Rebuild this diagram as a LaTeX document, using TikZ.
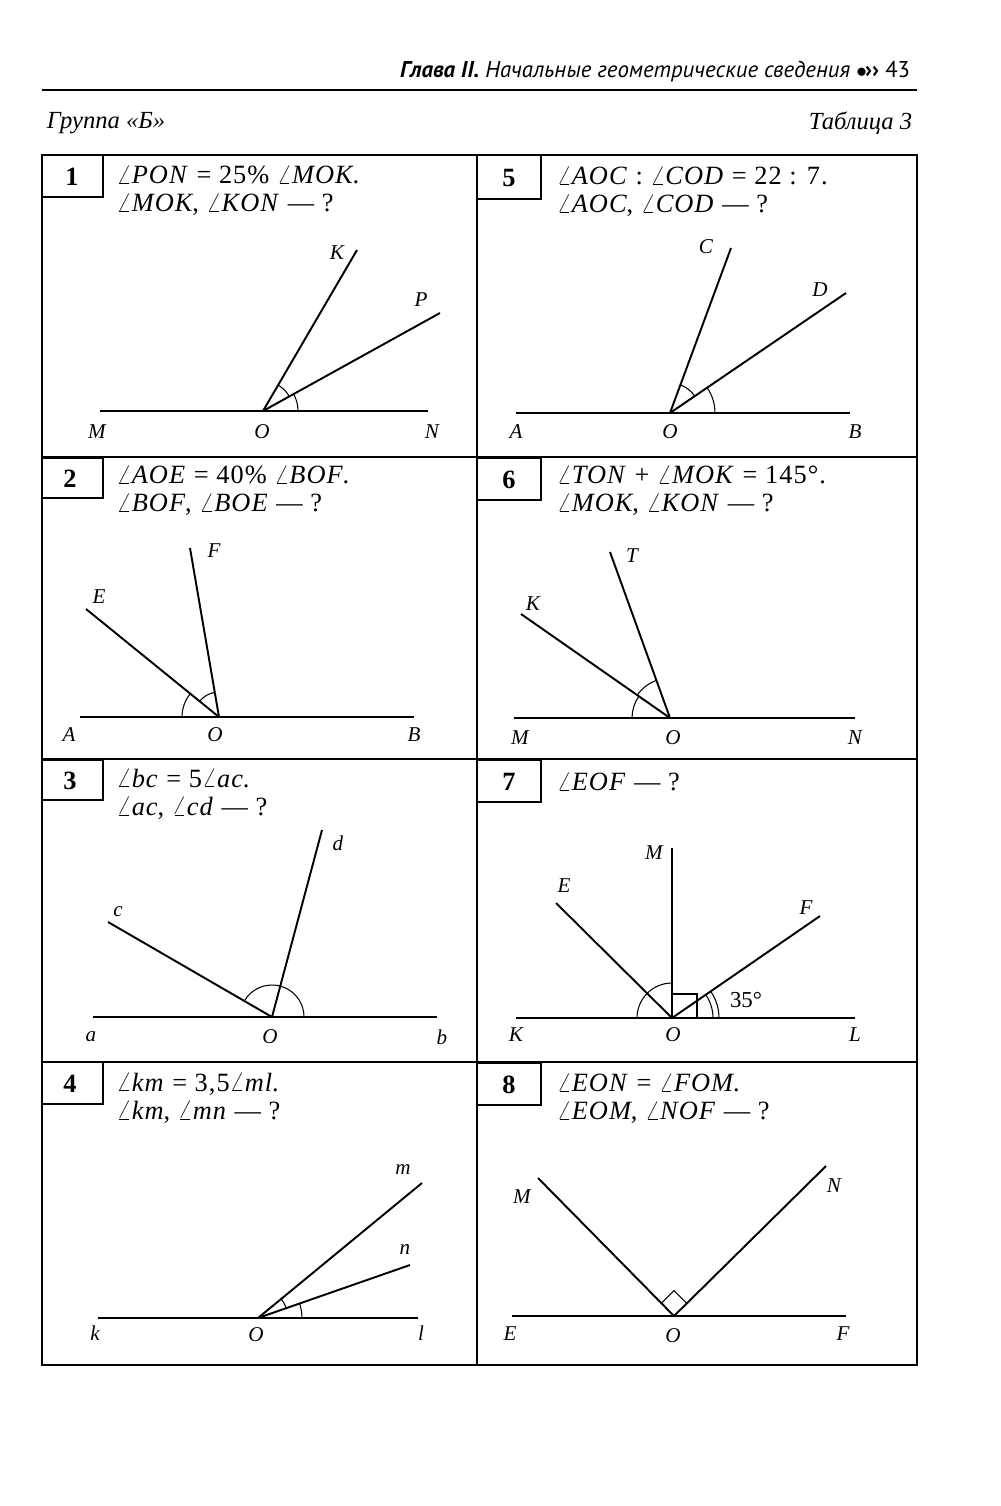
\documentclass[tikz,border=0pt]{standalone}
\usepackage{fontspec}
\setmainfont{Liberation Serif}
\newfontfamily\hsans{PT Sans}
\begin{document}
\newcommand\angarc[4]{\draw ([shift={(#2:#4)}]#1) arc[start angle=#2,end angle=#3,radius=#4];}
\newcommand\ang[1]{$\angle$\textit{#1}}
\begin{tikzpicture}[x=0.02cm,y=0.02cm,line width=1.1pt,
 lbl/.style={font=\fontsize{12}{14}\selectfont\itshape},
 task/.style={font=\fontsize{15}{16}\selectfont\addfontfeature{LetterSpace=4},anchor=west,align=left},
 num/.style={font=\fontsize{15}{18}\selectfont\bfseries},
 thin/.style={line width=0.6pt}]
\useasboundingbox (0,0) rectangle (1000,-1506);
% header
\node[anchor=east,font=\hsans\fontsize{13}{15}\selectfont] (hdr) at (917,-72) {\textbf{\itshape Глава II.} \itshape Начальные геометрические сведения \upshape \textbf{$\bullet$\kern-1pt››} 43};
\draw[line width=1.3pt] (42,-90) -- (917,-90);
\node[anchor=west,font=\fontsize{14}{16}\selectfont\itshape] (grp) at (40,-123) {Группа «Б»};
\node[anchor=east,font=\fontsize{14}{16}\selectfont\itshape] (tab) at (919,-123) {Таблица 3};
% frame
\draw (42,-155) rectangle (917,-1365);
\draw (477,-155) -- (477,-1365);
\foreach \y in {457,759,1062} \draw (42,-\y) -- (917,-\y);
% number boxes
\draw (42,-155) rectangle (103,-197); \node[num] (n1) at (72,-177) {1};
\draw (477,-155) rectangle (541,-199); \node[num] (n5) at (509,-178) {5};
\draw (42,-458) rectangle (103,-498); \node[num] (n2) at (70,-479) {2};
\draw (477,-458) rectangle (541,-500); \node[num] (n6) at (509,-480) {6};
\draw (42,-760) rectangle (103,-800); \node[num] (n3) at (70,-781) {3};
\draw (477,-760) rectangle (541,-802); \node[num] (n7) at (509,-782) {7};
\draw (42,-1062) rectangle (103,-1104); \node[num] (n4) at (70,-1084) {4};
\draw (477,-1063) rectangle (541,-1105); \node[num] (n8) at (509,-1085) {8};
% ---- 1
\node[task] (t1) at (110,-191) {\ang{PON} = 25\% \ang{MOK}.\\\ang{MOK}, \ang{KON} --- ?};
\coordinate (O1) at (263,-411); \coordinate (M1) at (100,-411); \coordinate (N1) at (428,-411);
\coordinate (K1) at (357,-250); \coordinate (P1) at (440,-313);
\draw (M1) -- (N1); \draw (O1) -- (K1); \draw (O1) -- (P1);
\begin{scope}[thin]\angarc{O1}{29}{59.7}{0.6cm}\angarc{O1}{0}{29}{0.7cm}\end{scope}
\node[lbl] (lM1) at (97,-432) {M}; \node[lbl] (lO1) at (262,-432) {O}; \node[lbl] (lN1) at (432,-432) {N};
\node[lbl] (lK1) at (337,-253) {K}; \node[lbl] (lP1) at (421,-300) {P};
% ---- 5
\node[task] (t5) at (550,-192) {\ang{AOC} : \ang{COD} = 22 : 7.\\\ang{AOC}, \ang{COD} --- ?};
\coordinate (O5) at (670,-413); \coordinate (A5) at (516,-413); \coordinate (B5) at (850,-413);
\coordinate (C5) at (731,-248); \coordinate (D5) at (846,-293);
\draw (A5) -- (B5); \draw (O5) -- (C5); \draw (O5) -- (D5);
\begin{scope}[thin]\angarc{O5}{34.3}{69.7}{0.6cm}\angarc{O5}{0}{34.3}{0.9cm}\end{scope}
\node[lbl] (lA5) at (516,-432) {A}; \node[lbl] (lO5) at (670,-432) {O}; \node[lbl] (lB5) at (855,-432) {B};
\node[lbl] (lC5) at (706,-247) {C}; \node[lbl] (lD5) at (820,-290) {D};
% ---- 2
\node[task] (t2) at (110,-491) {\ang{AOE} = 40\% \ang{BOF}.\\\ang{BOF}, \ang{BOE} --- ?};
\coordinate (O2) at (219,-717); \coordinate (A2) at (80,-717); \coordinate (B2) at (414,-717);
\coordinate (E2) at (86,-609); \coordinate (F2) at (190,-548);
\draw (A2) -- (B2); \draw (O2) -- (E2); \draw (O2) -- (F2);
\begin{scope}[thin]\angarc{O2}{99.7}{140.9}{0.5cm}\angarc{O2}{140.9}{180}{0.74cm}\end{scope}
\node[lbl] (lA2) at (69,-735) {A}; \node[lbl] (lO2) at (215,-735) {O}; \node[lbl] (lB2) at (414,-735) {B};
\node[lbl] (lE2) at (99,-597) {E}; \node[lbl] (lF2) at (214,-551) {F};
% ---- 6
\node[task] (t6) at (550,-491) {\ang{TON} + \ang{MOK} = 145°.\\\ang{MOK}, \ang{KON} --- ?};
\coordinate (O6) at (670,-718); \coordinate (M6) at (514,-718); \coordinate (N6) at (855,-718);
\coordinate (K6) at (521,-614); \coordinate (T6) at (610,-552);
\draw (M6) -- (N6); \draw (O6) -- (K6); \draw (O6) -- (T6);
\begin{scope}[thin]\angarc{O6}{109.9}{145.1}{0.8cm}\angarc{O6}{145.1}{180}{0.76cm}\end{scope}
\node[lbl] (lM6) at (520,-738) {M}; \node[lbl] (lO6) at (673,-738) {O}; \node[lbl] (lN6) at (855,-738) {N};
\node[lbl] (lK6) at (533,-604) {K}; \node[lbl] (lT6) at (632,-556) {T};
% ---- 3
\node[task] (t3) at (110,-794) {\ang{bc} = 5\ang{ac}.\\\ang{ac}, \ang{cd} --- ?};
\coordinate (O3) at (272,-1017); \coordinate (a3) at (93,-1017); \coordinate (b3) at (437,-1017);
\coordinate (c3) at (108,-922); \coordinate (d3) at (322,-830);
\draw (a3) -- (b3); \draw (O3) -- (c3); \draw (O3) -- (d3);
\begin{scope}[thin]\angarc{O3}{0}{149.9}{0.64cm}\end{scope}
\node[lbl] (la3) at (91,-1037) {a}; \node[lbl] (lO3) at (270,-1037) {O}; \node[lbl] (lb3) at (442,-1037) {b};
\node[lbl] (lc3) at (118,-912) {c}; \node[lbl] (ld3) at (338,-843) {d};
% ---- 7
\node[task] (t7) at (550,-782) {\ang{EOF} --- ?};
\coordinate (O7) at (672,-1018); \coordinate (K7) at (516,-1018); \coordinate (L7) at (855,-1018);
\coordinate (M7) at (672,-848); \coordinate (E7) at (556,-903); \coordinate (F7) at (820,-916);
\draw (K7) -- (L7); \draw (O7) -- (M7); \draw (O7) -- (E7); \draw (O7) -- (F7);
\begin{scope}[thin]
\draw (O7) ++(0,24) -- ++(25,0) -- ++(0,-24);
\angarc{O7}{90}{180}{0.7cm}\angarc{O7}{0}{35}{0.82cm}\angarc{O7}{0}{35}{0.94cm}
\end{scope}
\node[lbl] (lK7) at (516,-1035) {K}; \node[lbl] (lO7) at (673,-1035) {O}; \node[lbl] (lL7) at (855,-1035) {L};
\node[lbl] (lM7) at (654,-853) {M}; \node[lbl] (lE7) at (564,-886) {E}; \node[lbl] (lF7) at (806,-908) {F};
\node[font=\fontsize{13}{15}\selectfont] (a35) at (746,-1000) {35°};
% ---- 4
\node[task] (t4) at (110,-1098) {\ang{km} = 3,5\ang{ml}.\\\ang{km}, \ang{mn} --- ?};
\coordinate (O4) at (258,-1318); \coordinate (k4) at (98,-1318); \coordinate (l4) at (418,-1318);
\coordinate (m4) at (422,-1183); \coordinate (n4) at (410,-1265);
\draw (k4) -- (l4); \draw (O4) -- (m4); \draw (O4) -- (n4);
\begin{scope}[thin]\angarc{O4}{0}{19.2}{0.88cm}\angarc{O4}{19.2}{39.5}{0.6cm}\end{scope}
\node[lbl] (lk4) at (95,-1333) {k}; \node[lbl] (lO4) at (256,-1335) {O}; \node[lbl] (ll4) at (421,-1333) {l};
\node[lbl] (lm4) at (403,-1170) {m}; \node[lbl] (ln4) at (405,-1250) {n};
% ---- 8
\node[task] (t8) at (550,-1099) {\ang{EON} = \ang{FOM}.\\\ang{EOM}, \ang{NOF} --- ?};
\coordinate (O8) at (674,-1316); \coordinate (E8) at (512,-1316); \coordinate (F8) at (846,-1316);
\coordinate (M8) at (538,-1178); \coordinate (N8) at (826,-1166);
\draw (E8) -- (F8); \draw (O8) -- (M8); \draw (O8) -- (N8);
\begin{scope}[thin]\draw (O8) ++(45:18) -- ++(135:18) -- ++(225:18);\end{scope}
\node[lbl] (lE8) at (510,-1334) {E}; \node[lbl] (lO8) at (673,-1336) {O}; \node[lbl] (lF8) at (843,-1334) {F};
\node[lbl] (lM8) at (522,-1197) {M}; \node[lbl] (lN8) at (834,-1186) {N};
\end{tikzpicture}
\end{document}
